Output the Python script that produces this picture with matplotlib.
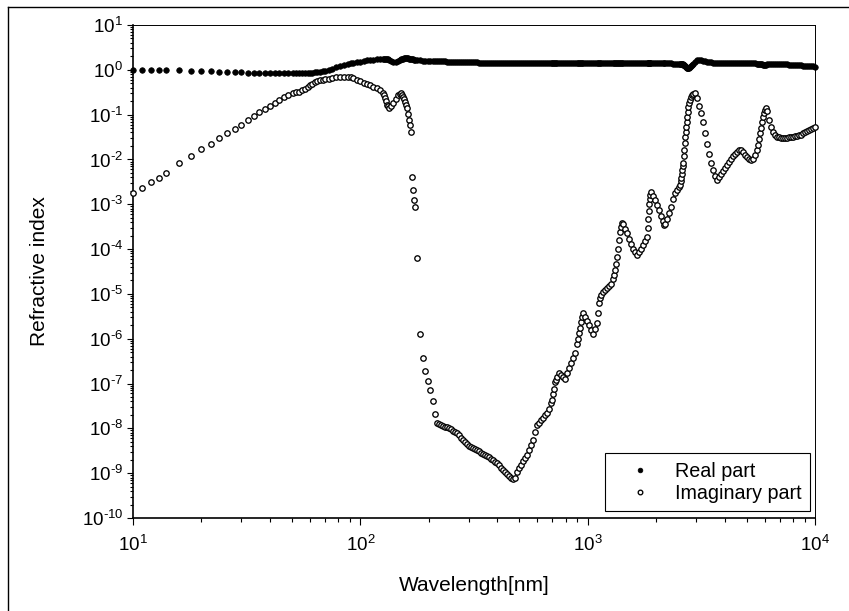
import matplotlib
matplotlib.use("Agg")
import numpy as np
import matplotlib.pyplot as plt
from matplotlib.lines import Line2D
from matplotlib.ticker import LogLocator, FuncFormatter, NullFormatter

plt.rcParams['font.family'] = ['Liberation Sans', 'DejaVu Sans']
plt.rcParams['mathtext.fontset'] = 'custom'
plt.rcParams['mathtext.rm'] = 'Liberation Sans'
plt.rcParams['mathtext.it'] = 'Liberation Sans:italic'
plt.rcParams['mathtext.bf'] = 'Liberation Sans:bold'

# ---------------- data ----------------
wavelength_nm = [
    10, 11, 12, 13, 14, 16, 18, 20, 22, 24, 26, 28, 30, 32, 34, 36, 38, 40, 42, 44, 46, 48,
    50.6, 52.1, 53.7, 55.4, 57.1, 58.6, 60.1, 61.6, 63.2, 64.8, 66.5, 68.2, 69.9, 72.5, 75.1,
    78.2, 81.4, 84.8, 88.3, 91.0, 92.9, 96.2, 99.7, 103.3, 107.0, 110.3, 113.7, 117.8, 122.1,
    125.9, 127.1, 128.4, 129.7, 131.1, 132.4, 133.8, 136.5, 139.3, 142.9, 146.5, 148.8, 151.0,
    152.6, 154.1, 155.7, 157.3, 158.9, 160.5, 162.1, 163.8, 165.4, 167.1, 168.8, 170.5, 172.3,
    173.1, 177.6, 183.0, 188.7, 192.6, 198.6, 202.6, 208.8, 213.1,
    217.5, 221.9, 226.5, 231.1, 235.9, 240.7, 245.6, 250.7, 255.8, 261.1, 266.4, 271.9, 277.4,
    283.1, 288.9, 294.8, 300.9, 307.0, 313.3, 319.7, 326.3, 333.0, 339.8, 346.7, 353.8, 361.1,
    368.5, 376.0, 383.7, 391.6, 399.6, 407.8, 416.1, 424.6, 433.3, 442.2, 451.3, 460.5, 469.9,
    479.6, 489.4, 499.4, 509.6, 520.0, 530.7, 541.6, 552.7, 564.0, 575.5, 587.3, 599.3, 611.6,
    624.1, 636.9, 649.9, 663.2, 676.8, 690.7, 697.7, 704.8, 711.9, 719.2, 726.5, 733.9, 749.0,
    764.3, 779.9, 795.9, 812.2, 828.8, 845.8, 863.1, 880.8, 898.8, 907.9, 917.2, 926.5, 936.0,
    945.5, 955.1, 974.7, 994.7, 1015, 1036, 1057, 1079, 1101, 1112, 1123, 1134, 1146, 1170,
    1194, 1218, 1243, 1269, 1295, 1308, 1321, 1335, 1348, 1362, 1376, 1390, 1404, 1418, 1433,
    1462, 1492, 1523, 1554, 1586, 1618, 1651, 1685, 1720, 1755, 1791, 1828, 1837, 1846, 1856,
    1865, 1875, 1884, 1903, 1942, 1982, 2023, 2064, 2106, 2149, 2171, 2193, 2238, 2284, 2331,
    2379, 2428, 2478, 2529, 2555, 2568, 2581, 2594, 2607, 2621, 2634, 2647, 2661, 2674, 2688,
    2702, 2715, 2729, 2743, 2757, 2771, 2799, 2827, 2856, 2885, 2915, 2975, 3036, 3098, 3162,
    3227, 3293, 3360, 3429, 3499, 3571, 3644, 3719, 3795, 3873, 3952, 4033, 4116, 4200, 4286,
    4374, 4463, 4555, 4648, 4743, 4840, 4940, 5041, 5144, 5249, 5357, 5466, 5578, 5635, 5692,
    5750, 5809, 5868, 5928, 5988, 6049, 6111, 6173, 6299, 6428, 6560, 6694, 6831, 6971, 7114,
    7259, 7408, 7560, 7715, 7873, 8034, 8198, 8366, 8537, 8712, 8890, 9072, 9258, 9447, 9641,
    9838, 10000,
]

real_part = [
    1.0, 1.0, 1.0, 0.99, 0.99, 0.97, 0.96, 0.94, 0.93, 0.91, 0.90, 0.89, 0.88, 0.87, 0.86, 0.86,
    0.85, 0.85, 0.85, 0.85, 0.84, 0.84,
    0.84, 0.84, 0.84, 0.84, 0.845, 0.85, 0.86, 0.87, 0.88, 0.89, 0.91, 0.93, 0.96, 1.01, 1.07,
    1.14, 1.21, 1.28, 1.34, 1.39, 1.43, 1.48, 1.52, 1.57, 1.62, 1.66, 1.69, 1.71, 1.73,
    1.76, 1.77, 1.78, 1.77, 1.74, 1.70, 1.66, 1.57, 1.50, 1.48, 1.55, 1.62, 1.70,
    1.74, 1.78, 1.81, 1.82, 1.82, 1.81, 1.80, 1.78, 1.76, 1.74, 1.72, 1.70, 1.69,
    1.68, 1.66, 1.63, 1.61, 1.60, 1.58, 1.57, 1.57, 1.56,
    1.56, 1.55, 1.55, 1.54, 1.54, 1.53, 1.53, 1.52, 1.52, 1.51, 1.51, 1.50, 1.50,
    1.49, 1.49, 1.48, 1.48, 1.47, 1.47, 1.46, 1.46, 1.45, 1.45, 1.45, 1.44, 1.44,
    1.44, 1.43, 1.43, 1.43, 1.42, 1.42, 1.42, 1.42, 1.41, 1.41, 1.41, 1.41, 1.41,
    1.41, 1.41, 1.40, 1.40, 1.40, 1.40, 1.40, 1.40, 1.40, 1.40, 1.40, 1.40, 1.40,
    1.40, 1.40, 1.40, 1.40, 1.40, 1.40, 1.40, 1.40, 1.40, 1.40, 1.40, 1.40, 1.40,
    1.40, 1.40, 1.40, 1.40, 1.40, 1.40, 1.40, 1.40, 1.40, 1.40, 1.40, 1.40, 1.40,
    1.40, 1.40, 1.40, 1.40, 1.40, 1.40, 1.40, 1.40, 1.40, 1.40, 1.40, 1.40, 1.40, 1.40,
    1.40, 1.40, 1.40, 1.40, 1.40, 1.40, 1.40, 1.40, 1.40, 1.40, 1.40, 1.40, 1.40, 1.40, 1.40,
    1.40, 1.40, 1.40, 1.40, 1.40, 1.40, 1.40, 1.40, 1.40, 1.39, 1.39, 1.39, 1.39, 1.39, 1.39,
    1.39, 1.39, 1.39, 1.39, 1.39, 1.39, 1.39, 1.39, 1.39, 1.39, 1.39, 1.39, 1.39, 1.39, 1.39,
    1.38, 1.38, 1.38, 1.38, 1.38, 1.37, 1.36, 1.35, 1.33, 1.32, 1.30, 1.28, 1.26, 1.23, 1.20,
    1.17, 1.15, 1.12, 1.10, 1.09, 1.08, 1.10, 1.15, 1.22, 1.30, 1.38, 1.52, 1.62, 1.65, 1.64,
    1.60, 1.56, 1.52, 1.49, 1.47, 1.45, 1.44, 1.43, 1.43, 1.42, 1.42, 1.42, 1.41, 1.41, 1.41,
    1.41, 1.40, 1.40, 1.40, 1.40, 1.40, 1.40, 1.39, 1.39, 1.39, 1.39, 1.39, 1.38, 1.38, 1.37,
    1.36, 1.34, 1.32, 1.30, 1.28, 1.27, 1.28, 1.32, 1.36, 1.37, 1.36, 1.35, 1.35, 1.34, 1.34,
    1.33, 1.33, 1.32, 1.31, 1.30, 1.29, 1.28, 1.27, 1.26, 1.25, 1.24, 1.23, 1.22, 1.21, 1.20,
    1.19, 1.18,
]

imag_part = [
    1.8e-3, 2.3e-3, 3.1e-3, 3.9e-3, 5.0e-3, 8.3e-3, 1.19e-2, 1.71e-2, 2.21e-2, 3.0e-2, 3.9e-2,
    4.9e-2, 6.0e-2, 7.4e-2, 9.1e-2, 0.115, 0.134, 0.156, 0.182, 0.212, 0.248, 0.274,
    0.304, 0.312, 0.320, 0.346, 0.373, 0.414, 0.459, 0.495, 0.535, 0.563, 0.593, 0.608, 0.624,
    0.640, 0.657, 0.674, 0.691, 0.691, 0.691, 0.674, 0.657, 0.608, 0.563, 0.521, 0.483, 0.447,
    0.414, 0.383, 0.355, 0.304, 0.274, 0.235, 0.2015, 0.164, 0.152, 0.141, 0.156, 0.182, 0.223,
    0.274, 0.296, 0.304, 0.281, 0.247, 0.218, 0.191, 0.164, 0.141, 0.103, 0.076, 0.0587, 0.041,
    4.06e-3, 2.08e-3, 1.25e-3, 8.7e-4, 6.3e-5, 1.28e-6, 3.7e-7, 1.9e-7, 1.14e-7, 7.2e-8, 4.1e-8,
    2.1e-8,
    1.32e-8, 1.24e-8, 1.17e-8, 1.12e-8, 1.09e-8, 1.06e-8, 1.03e-8, 9.8e-9, 8.8e-9, 8.2e-9,
    7.9e-9, 7.0e-9, 6.2e-9, 5.5e-9, 4.97e-9, 4.48e-9, 4.04e-9, 3.76e-9, 3.59e-9, 3.45e-9,
    3.30e-9, 3.08e-9, 2.87e-9, 2.68e-9, 2.53e-9, 2.38e-9, 2.25e-9, 2.09e-9, 1.94e-9, 1.79e-9,
    1.69e-9, 1.50e-9, 1.33e-9, 1.18e-9, 1.06e-9, 9.6e-10, 8.7e-10, 7.9e-10, 7.3e-10, 8.0e-10,
    1.04e-9, 1.29e-9, 1.54e-9, 1.85e-9, 2.18e-9, 2.59e-9, 3.23e-9, 4.22e-9, 5.5e-9, 8.1e-9,
    1.19e-8, 1.35e-8, 1.52e-8, 1.72e-8, 1.94e-8, 2.18e-8, 2.71e-8, 3.68e-8, 4.30e-8, 5.8e-8,
    7.6e-8, 1.08e-7, 1.20e-7, 1.37e-7, 1.72e-7, 1.56e-7, 1.40e-7, 1.26e-7, 1.69e-7, 2.25e-7,
    2.94e-7, 3.76e-7, 4.81e-7, 7.5e-7, 9.9e-7, 1.31e-6, 1.78e-6, 2.33e-6, 2.98e-6, 3.75e-6,
    3.05e-6, 2.49e-6, 2.00e-6, 1.60e-6, 1.28e-6, 1.69e-6, 2.24e-6, 3.75e-6, 6.3e-6, 8.1e-6,
    9.5e-6, 1.08e-5, 1.22e-5, 1.36e-5, 1.50e-5, 1.67e-5, 2.19e-5, 2.64e-5, 3.42e-5, 4.66e-5,
    6.7e-5, 1.00e-4, 1.60e-4, 2.41e-4, 3.11e-4, 3.82e-4, 3.63e-4, 2.81e-4, 2.29e-4, 1.71e-4,
    1.29e-4, 1.03e-4, 8.7e-5, 7.4e-5, 8.7e-5, 1.03e-4, 1.24e-4, 1.52e-4, 1.86e-4, 2.96e-4,
    4.70e-4, 7.1e-4, 1.02e-3, 1.31e-3, 1.57e-3, 1.88e-3, 1.53e-3, 1.25e-3, 9.6e-4, 7.3e-4,
    5.6e-4, 4.24e-4, 3.45e-4, 3.63e-4, 4.70e-4, 6.4e-4, 8.9e-4, 1.28e-3, 1.79e-3, 2.08e-3,
    2.43e-3, 2.69e-3, 3.31e-3, 3.86e-3, 4.74e-3, 5.82e-3, 6.97e-3, 8.34e-3, 1.195e-2, 1.63e-2,
    2.27e-2, 3.17e-2, 4.10e-2, 5.30e-2, 6.85e-2, 8.86e-2, 0.1146, 0.148, 0.182, 0.212, 0.247,
    0.274, 0.289, 0.304, 0.235, 0.156, 0.109, 6.85e-2, 3.89e-2, 2.21e-2, 1.29e-2, 8.34e-3,
    5.82e-3, 4.28e-3, 3.48e-3, 4.06e-3, 4.62e-3, 5.39e-3, 6.45e-3, 7.52e-3, 9.0e-3, 1.02e-2,
    1.195e-2, 1.32e-2, 1.47e-2, 1.585e-2, 1.63e-2, 1.47e-2, 1.26e-2, 1.135e-2, 1.05e-2, 9.7e-3,
    1.02e-2, 1.26e-2, 1.63e-2, 2.10e-2, 2.86e-2, 3.89e-2, 5.03e-2, 6.68e-2, 8.86e-2, 0.109,
    0.127, 0.141, 0.121, 7.6e-2, 5.30e-2, 4.10e-2, 3.51e-2, 3.17e-2, 3.09e-2, 3.01e-2, 3.01e-2,
    3.01e-2, 3.01e-2, 3.09e-2, 3.17e-2, 3.25e-2, 3.34e-2, 3.42e-2, 3.51e-2, 3.60e-2, 3.80e-2,
    4.0e-2, 4.32e-2, 4.54e-2, 4.78e-2, 5.03e-2, 5.30e-2,
]

series_labels = ["Real part", "Imaginary part"]
x_label = "Wavelength[nm]"
y_label = "Refractive index"
x_decades = [1, 2, 3, 4]
y_decades = [-10, -9, -8, -7, -6, -5, -4, -3, -2, -1, 0, 1]

# ---------------- figure ----------------
W, H = 849, 611
fig = plt.figure(figsize=(W / 100, H / 100), dpi=100)
fig.patch.set_facecolor("white")

ax_l, ax_r, ax_t, ax_b = 133, 815, 25, 518
ax = fig.add_axes([ax_l / W, 1 - ax_b / H, (ax_r - ax_l) / W, (ax_b - ax_t) / H])

ax.plot(wavelength_nm, real_part, ls="none", marker="o", ms=4.0, mfc="black",
        mec="black", mew=0.5, label=series_labels[0], clip_on=False, zorder=3)
ax.plot(wavelength_nm, imag_part, ls="none", marker="o", ms=3.9, mfc="white",
        mec="black", mew=0.95, label=series_labels[1], clip_on=False, zorder=4)

ax.set_xscale("log")
ax.set_yscale("log")
ax.set_xlim(10 ** x_decades[0], 10 ** x_decades[-1])
ax.set_ylim(10.0 ** y_decades[0], 10.0 ** y_decades[-1])

ax.xaxis.set_major_locator(LogLocator(base=10, numticks=20))
ax.xaxis.set_minor_locator(LogLocator(base=10, subs=range(2, 10), numticks=100))
ax.yaxis.set_major_locator(LogLocator(base=10, numticks=20))
ax.yaxis.set_minor_locator(LogLocator(base=10, subs=range(2, 10), numticks=100))

def fmt(v, pos):
    e = int(round(np.log10(v)))
    if e < 0:
        return r"$\mathregular{10^{\text{-}%d}}$" % (-e)
    return r"$\mathregular{10^{%d}}$" % e

ax.xaxis.set_major_formatter(FuncFormatter(fmt))
ax.yaxis.set_major_formatter(FuncFormatter(fmt))
ax.xaxis.set_minor_formatter(NullFormatter())
ax.yaxis.set_minor_formatter(NullFormatter())

ax.tick_params(axis="both", which="both", direction="out", top=False, right=False,
               colors="black", width=0.8)
ax.tick_params(axis="x", which="major", length=5, pad=7, labelsize=13.5)
ax.tick_params(axis="x", which="minor", length=3)
ax.tick_params(axis="y", which="major", length=4.5, pad=2.5, labelsize=13.5)
ax.tick_params(axis="y", which="minor", length=2.5)

for s in ["left", "bottom"]:
    ax.spines[s].set_linewidth(1.2)
for s in ["top", "right"]:
    ax.spines[s].set_linewidth(0.7)

ax.set_xlabel(x_label, fontsize=15)
ax.set_ylabel(y_label, fontsize=15)
ax.xaxis.set_label_coords(0.5, (ax_b - 576) / (ax_b - ax_t))
ax.yaxis.set_label_coords((49 - ax_l) / (ax_r - ax_l), 0.5)

leg = ax.legend(loc="lower right", bbox_to_anchor=((810 - ax_l) / (ax_r - ax_l), (ax_b - 511) / (ax_b - ax_t)),
                borderaxespad=0, frameon=True, fancybox=False, framealpha=1,
                edgecolor="black", fontsize=14.2, handlelength=2.7, handletextpad=0.45,
                borderpad=0.42, labelspacing=0.15, markerscale=0.85)
leg.get_frame().set_linewidth(0.8)

# outer frame of the picture (left and top edges visible)
fig.add_artist(Line2D([7.5 / W, 7.5 / W], [0, 1 - 7 / H], transform=fig.transFigure,
                      color="black", lw=1.0))
fig.add_artist(Line2D([7.5 / W, 1], [1 - 7 / H, 1 - 7 / H], transform=fig.transFigure,
                      color="black", lw=1.0))

fig.savefig("out.png", dpi=100)
